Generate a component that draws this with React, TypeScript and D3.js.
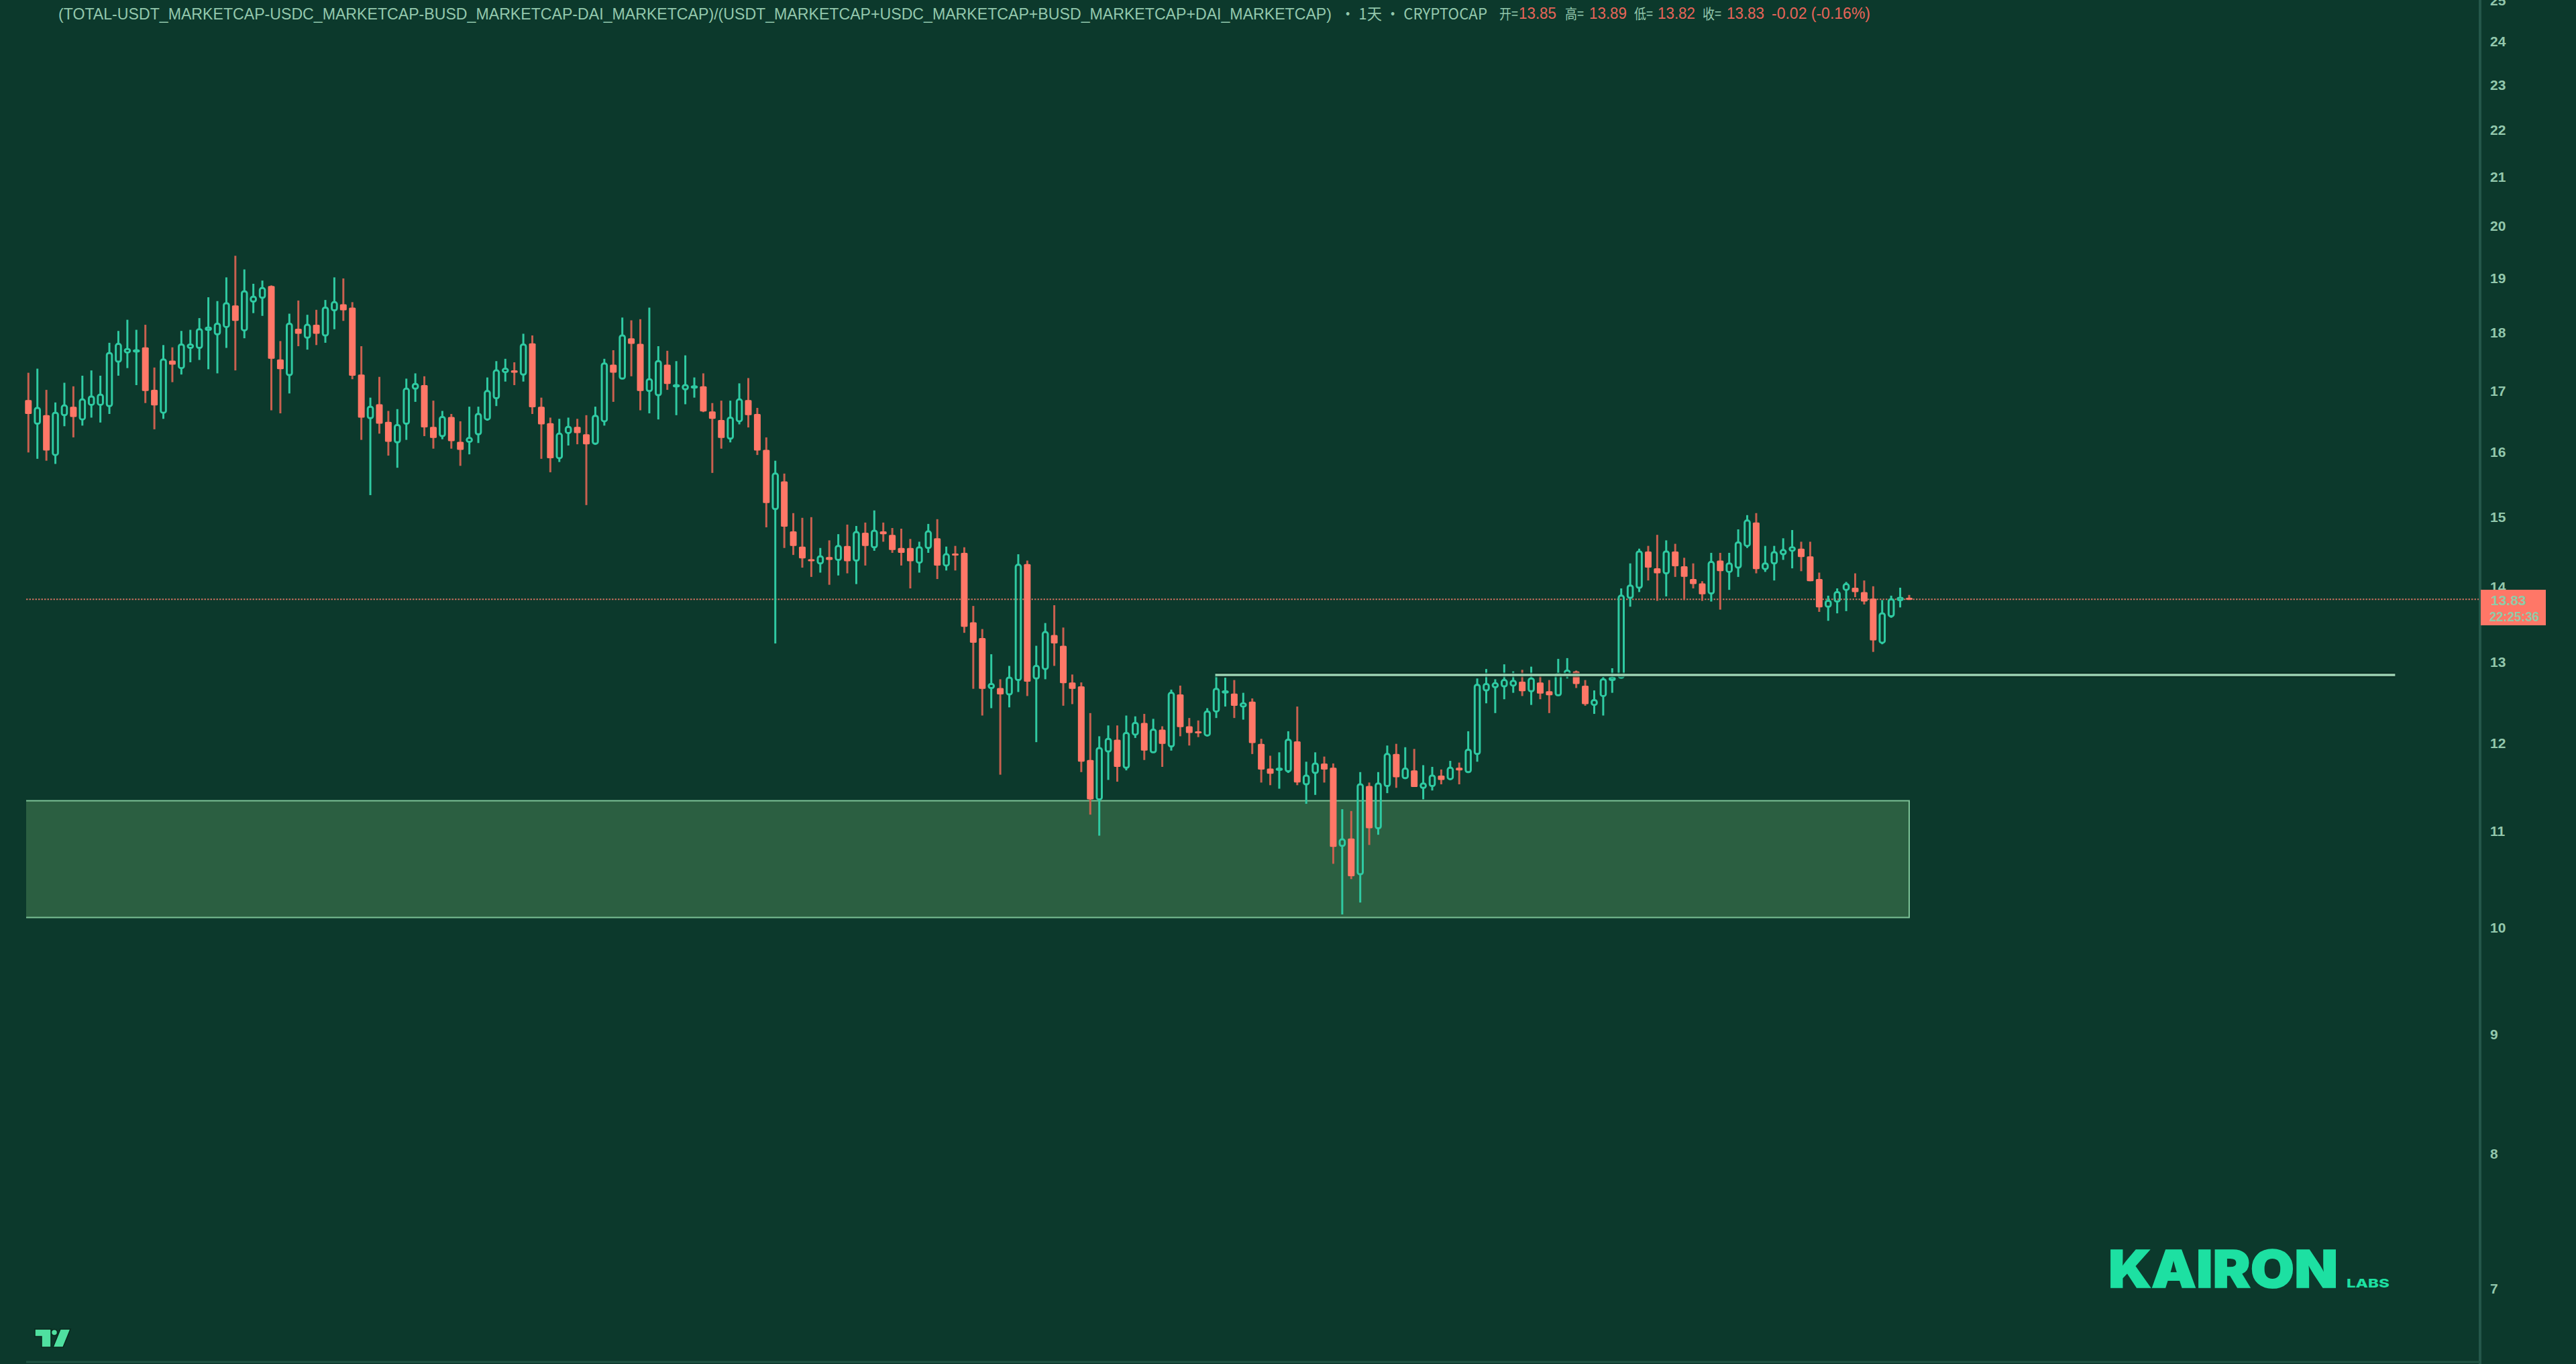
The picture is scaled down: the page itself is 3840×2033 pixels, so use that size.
import * as d3 from "d3";

const opens = [
  16.84, 16.45, 16.59, 15.95, 16.59, 16.73, 16.52, 16.76, 16.76, 16.74,
  17.49, 17.65, 17.67, 17.74, 17.01, 16.63, 17.51, 17.38, 17.73, 17.73,
  18.05, 17.97, 18.1, 18.49, 18.04, 18.56, 18.63, 18.85, 17.53, 17.26,
  18.07, 17.91, 18.14, 17.95, 18.4, 18.51, 18.45, 17.27, 16.54, 16.77,
  16.48, 16.15, 16.45, 17.03, 17.09, 16.4, 16.25, 16.56, 16.16, 16.16,
  16.28, 16.52, 16.87, 17.31, 17.34, 17.27, 17.81, 16.73, 16.46, 15.9,
  16.3, 16.4, 16.28, 16.13, 16.49, 17.44, 17.2, 17.9, 17.8, 16.99,
  16.92, 17.44, 17.07, 17.02, 17.06, 17.07, 16.65, 16.51, 16.21, 16.49,
  16.84, 16.61, 16.03, 15.12, 15.54, 14.79, 14.57, 14.39, 14.33, 14.42,
  14.38, 14.58, 14.37, 14.77, 14.56, 14.79, 14.74, 14.55, 14.55, 14.34,
  14.55, 14.69, 14.3, 14.47, 14.48, 13.52, 13.31, 12.67, 12.67, 12.59,
  12.77, 14.32, 12.79, 12.91, 13.35, 13.21, 12.74, 12.69, 11.8, 11.35,
  11.9, 12.04, 11.71, 12.1, 12.24, 11.89, 12.16, 11.96, 12.59, 12.2,
  12.14, 12.09, 12.38, 12.62, 12.6, 12.44, 12.5, 11.99, 11.7, 11.69,
  11.67, 12.02, 11.52, 11.65, 11.76, 11.71, 10.84, 10.92, 10.54, 11.5,
  11.03, 11.5, 11.87, 11.59, 11.68, 11.48, 11.5, 11.62, 11.58, 11.71,
  11.66, 11.87, 12.64, 12.68, 12.69, 12.7, 12.75, 12.63, 12.74, 12.63,
  12.58, 12.84, 12.88, 12.7, 12.46, 12.57, 12.77, 12.8, 13.85, 13.99,
  14.5, 14.26, 14.19, 14.5, 14.29, 14.11, 14.05, 13.91, 14.37, 14.21,
  14.27, 14.58, 14.92, 14.25, 14.33, 14.46, 14.51, 14.54, 14.43, 14.11,
  13.73, 13.8, 13.96, 13.99, 13.93, 13.84, 13.25, 13.6, 13.82, 13.85,
];

const highs = [
  17.3, 17.37, 17.01, 16.8, 17.13, 17.07, 17.25, 17.34, 17.25, 17.82,
  18.03, 18.23, 18.05, 18.14, 17.39, 17.78, 17.74, 18.03, 18.05, 18.26,
  18.64, 18.57, 19.01, 19.42, 19.16, 18.89, 18.95, 18.86, 17.85, 18.34,
  18.58, 18.32, 18.41, 18.59, 19.01, 18.99, 18.55, 17.76, 16.88, 17.23,
  16.66, 16.69, 17.2, 17.29, 17.24, 16.83, 16.66, 16.61, 16.49, 16.73,
  16.73, 17.22, 17.5, 17.54, 17.48, 17.98, 17.95, 16.88, 16.55, 16.53,
  16.55, 16.53, 16.59, 16.73, 17.54, 17.69, 18.27, 18.22, 18.24, 18.45,
  17.76, 17.68, 17.5, 17.6, 17.22, 17.29, 16.79, 16.83, 16.83, 17.12,
  17.21, 16.71, 16.23, 15.86, 15.66, 15.06, 14.99, 15.0, 14.55, 14.66,
  14.75, 14.89, 14.87, 14.92, 15.1, 14.92, 14.84, 14.83, 14.68, 14.64,
  14.9, 14.97, 14.57, 14.58, 14.56, 13.74, 13.43, 13.1, 12.78, 12.95,
  14.46, 14.37, 13.21, 13.51, 13.75, 13.45, 12.84, 12.74, 12.36, 12.08,
  12.21, 12.21, 12.33, 12.32, 12.35, 12.29, 12.2, 12.65, 12.7, 12.3,
  12.27, 12.42, 12.85, 12.8, 12.77, 12.61, 12.54, 12.05, 11.85, 11.89,
  12.14, 12.44, 11.78, 11.89, 11.84, 11.76, 11.24, 11.22, 11.66, 11.54,
  11.66, 11.97, 11.99, 11.95, 11.93, 11.74, 11.72, 11.69, 11.79, 11.77,
  12.14, 12.79, 12.91, 12.78, 12.97, 12.88, 12.9, 12.94, 12.83, 12.77,
  13.04, 13.05, 12.89, 12.77, 12.64, 12.81, 12.92, 13.98, 14.33, 14.54,
  14.58, 14.74, 14.66, 14.61, 14.41, 14.33, 14.08, 14.48, 14.48, 14.48,
  14.82, 15.03, 15.06, 14.58, 14.58, 14.69, 14.81, 14.64, 14.64, 14.2,
  13.88, 13.98, 14.07, 14.19, 14.09, 14.01, 13.82, 13.88, 13.99, 13.89,
];

const lows = [
  15.99, 15.89, 15.86, 15.81, 16.41, 16.23, 16.42, 16.55, 16.47, 16.61,
  17.25, 17.38, 17.09, 16.79, 16.36, 16.53, 17.14, 17.27, 17.48, 17.52,
  17.36, 17.29, 17.73, 17.34, 17.9, 18.35, 18.3, 16.67, 16.62, 16.95,
  17.76, 17.7, 17.78, 17.82, 18.06, 18.21, 17.19, 16.19, 15.33, 16.29,
  15.94, 15.75, 16.19, 16.81, 16.25, 16.05, 16.2, 16.05, 15.78, 15.96,
  16.14, 16.5, 16.74, 17.15, 17.09, 17.15, 16.61, 15.89, 15.68, 15.84,
  16.1, 16.12, 15.18, 16.11, 16.42, 16.81, 17.19, 17.24, 16.67, 16.62,
  16.52, 17.01, 16.59, 16.77, 16.88, 16.64, 15.67, 16.05, 16.15, 16.44,
  16.39, 15.95, 14.85, 13.24, 14.55, 14.45, 14.27, 14.14, 14.2, 14.03,
  14.16, 14.19, 14.04, 14.3, 14.51, 14.64, 14.48, 14.3, 13.98, 14.2,
  14.48, 14.11, 14.23, 14.23, 13.38, 12.66, 12.33, 12.42, 11.63, 12.43,
  12.62, 12.57, 12.01, 12.78, 12.95, 12.45, 12.47, 11.66, 11.18, 10.95,
  11.57, 11.55, 11.68, 12.06, 11.8, 11.89, 11.72, 11.91, 12.08, 11.97,
  12.07, 12.08, 12.3, 12.44, 12.3, 12.28, 11.87, 11.54, 11.51, 11.47,
  11.65, 11.51, 11.3, 11.4, 11.54, 10.65, 10.13, 10.49, 10.25, 10.85,
  10.96, 11.42, 11.48, 11.58, 11.49, 11.35, 11.45, 11.52, 11.57, 11.52,
  11.65, 11.78, 12.48, 12.36, 12.53, 12.61, 12.57, 12.46, 12.53, 12.36,
  12.58, 12.79, 12.67, 12.45, 12.35, 12.33, 12.61, 12.79, 13.73, 13.93,
  14.09, 13.81, 13.87, 14.14, 13.82, 13.98, 13.81, 13.8, 13.69, 13.96,
  14.14, 14.55, 14.19, 14.21, 14.09, 14.38, 14.26, 14.22, 14.08, 13.66,
  13.54, 13.64, 13.67, 13.86, 13.76, 13.13, 13.23, 13.58, 13.72, 13.82,
];

const closes = [
  16.61, 16.71, 16.02, 16.63, 16.75, 16.56, 16.85, 16.9, 16.93, 17.64,
  17.8, 17.71, 17.69, 16.99, 16.75, 17.53, 17.44, 17.79, 17.79, 18.06,
  18.09, 18.16, 18.53, 18.21, 18.75, 18.65, 18.81, 17.54, 17.36, 18.16,
  17.98, 18.14, 17.98, 18.45, 18.55, 18.4, 17.25, 16.55, 16.73, 16.45,
  16.16, 16.43, 17.03, 17.11, 16.39, 16.22, 16.56, 16.17, 16.03, 16.22,
  16.61, 16.99, 17.34, 17.37, 17.3, 17.79, 16.72, 16.44, 15.9, 16.29,
  16.4, 16.3, 16.12, 16.58, 17.46, 17.3, 17.95, 17.8, 16.99, 17.19,
  17.5, 17.11, 17.09, 17.09, 17.07, 16.65, 16.53, 16.22, 16.55, 16.85,
  16.59, 16.02, 15.21, 15.66, 14.86, 14.58, 14.4, 14.36, 14.43, 14.38,
  14.58, 14.36, 14.78, 14.58, 14.8, 14.75, 14.52, 14.48, 14.36, 14.56,
  14.79, 14.3, 14.46, 14.45, 13.46, 13.25, 12.66, 12.72, 12.59, 12.8,
  14.31, 12.75, 12.95, 13.39, 13.24, 12.73, 12.66, 11.78, 11.35, 11.94,
  12.05, 11.72, 12.12, 12.24, 11.91, 12.16, 11.99, 12.61, 12.19, 12.12,
  12.12, 12.38, 12.66, 12.63, 12.45, 12.48, 12.0, 11.69, 11.64, 11.7,
  12.04, 11.54, 11.62, 11.76, 11.69, 10.83, 10.91, 10.52, 11.52, 11.03,
  11.53, 11.87, 11.6, 11.7, 11.49, 11.53, 11.62, 11.57, 11.71, 11.68,
  11.92, 12.71, 12.72, 12.73, 12.77, 12.76, 12.63, 12.79, 12.6, 12.58,
  12.85, 12.89, 12.72, 12.47, 12.52, 12.78, 12.8, 13.88, 14.02, 14.5,
  14.27, 14.19, 14.5, 14.29, 14.14, 14.04, 13.9, 14.35, 14.22, 14.33,
  14.63, 14.95, 14.25, 14.33, 14.49, 14.52, 14.56, 14.42, 14.08, 13.72,
  13.81, 13.93, 14.04, 13.93, 13.8, 13.28, 13.64, 13.83, 13.85, 13.83,
];

const priceTicks = [25, 24, 23, 22, 21, 20, 19, 18, 17, 16, 15, 14, 13, 12, 11, 10, 9, 8, 7];
const lastPrice = 13.83;
const countdown = "22:25:36";
const zoneTop = 11.335;
const zoneBottom = 10.1;
const levelPrice = 12.835;
const levelFromIndex = 131.9;
const levelToIndex = 263;

const titleText =
  "(TOTAL-USDT_MARKETCAP-USDC_MARKETCAP-BUSD_MARKETCAP-DAI_MARKETCAP)/(USDT_MARKETCAP+USDC_MARKETCAP+BUSD_MARKETCAP+DAI_MARKETCAP)";
const intervalText = "· 1天 · CRYPTOCAP";
const ohlcLabels = ["开=", "高=", "低=", "收="];
const ohlcValues = ["13.85", "13.89", "13.82", "13.83"];
const changeText = "-0.02 (-0.16%)";

const width = 3840;
const height = 2033;
const plotLeft = 39;
const axisX = 3697;
const bg = "#0c392c";
const upColor = "#2fcaa2";
const downBody = "#ff7767";
const downWick = "#c9604f";
const axisText = "#93c8ad";
const latin = "'Liberation Sans', Arial, sans-serif";
const cjk = "'Noto Sans CJK SC', 'Liberation Sans', sans-serif";

const x = d3.scaleLinear().domain([0, opens.length - 1]).range([42.3, 2846]);
const y = d3.scaleLog().domain([7, 25]).range([1920.5, 0.2]);

const bodyW = 10;

function Candle({ i }: { i: number }) {
  const cx = x(i);
  const top = y(Math.max(opens[i], closes[i]));
  const bottom = y(Math.min(opens[i], closes[i]));
  const yHigh = y(highs[i]);
  const yLow = y(lows[i]);
  if (closes[i] < opens[i]) {
    return (
      <g>
        <line x1={cx} x2={cx} y1={yHigh} y2={yLow} stroke={downWick} strokeWidth={3} />
        <rect
          x={cx - bodyW / 2}
          y={top}
          width={bodyW}
          height={Math.max(bottom - top, 3)}
          rx={1.5}
          fill={downBody}
        />
      </g>
    );
  }
  // hollow up candle, the wick stops at the body so the zone shows through
  return (
    <g stroke={upColor} fill="none">
      <line x1={cx} x2={cx} y1={yHigh} y2={top} strokeWidth={3} />
      <line x1={cx} x2={cx} y1={bottom} y2={yLow} strokeWidth={3} />
      <rect
        x={cx - bodyW / 2 + 1.2}
        y={top}
        width={bodyW - 2.4}
        height={Math.max(bottom - top, 2)}
        rx={3}
        strokeWidth={3}
      />
    </g>
  );
}

export default function App() {
  const lastY = y(lastPrice);
  const levelY = y(levelPrice);
  const zoneRight = x(opens.length - 1);
  const ohlcX = [2235, 2333, 2436, 2538];
  const valueX = [2264, 2369, 2471, 2574];

  return (
    <svg
      width={width}
      height={height}
      viewBox={`0 0 ${width} ${height}`}
      style={{ position: "absolute", left: 0, top: 0, display: "block" }}
    >
      <rect width={width} height={height} fill={bg} />

      {/* support zone, open on the left where the plot starts */}
      <rect
        x={plotLeft}
        y={y(zoneTop)}
        width={zoneRight - plotLeft}
        height={y(zoneBottom) - y(zoneTop)}
        fill="#2b5f41"
      />
      <path
        d={`M${plotLeft} ${y(zoneTop)}H${zoneRight}V${y(zoneBottom)}H${plotLeft}`}
        fill="none"
        stroke="#7cc196"
        strokeWidth={2}
      />

      {/* last price line */}
      <line
        x1={plotLeft}
        x2={axisX}
        y1={lastY}
        y2={lastY}
        stroke="#c9705f"
        strokeWidth={2}
        strokeDasharray="2.5 2"
      />

      {opens.map((_, i) => (
        <Candle key={i} i={i} />
      ))}

      {/* resistance level */}
      <line x1={x(levelFromIndex)} x2={x(levelToIndex)} y1={levelY} y2={levelY} stroke="#08261c" strokeWidth={7} opacity={0.7} />
      <line x1={x(levelFromIndex)} x2={x(levelToIndex)} y1={levelY} y2={levelY} stroke="#9ed4b4" strokeWidth={3.5} />

      {/* frame */}
      <line x1={axisX} x2={axisX} y1={0} y2={height} stroke="#24574a" strokeWidth={4} />
      <line x1={plotLeft} x2={axisX} y1={2030} y2={2030} stroke="#1f5242" strokeWidth={3} />

      {/* price axis */}
      {priceTicks.map((t) => (
        <text
          key={t}
          x={3712}
          y={y(t)}
          dy="0.36em"
          fontFamily={latin}
          fontSize={21}
          fontWeight={700}
          fill={axisText}
        >
          {t}
        </text>
      ))}

      {/* last price tag */}
      <rect x={axisX + 1} y={879} width={97} height={53} fill={downBody} />
      <text x={3713} y={894} dy="0.36em" fontFamily={latin} fontSize={21} fontWeight={700} fill="#8fcba8">
        {lastPrice.toFixed(2)}
      </text>
      <text x={3711} y={918} dy="0.36em" textLength={74} lengthAdjust="spacingAndGlyphs" fontFamily={latin} fontSize={21} fontWeight={700} fill="#8fcba8">
        {countdown}
      </text>

      {/* header */}
      <text x={87} y={29} fontFamily={latin} fontSize={24} fill={axisText} textLength={1898} lengthAdjust="spacingAndGlyphs">
        {titleText}
      </text>
      <text x={1998} y={29} fontFamily={cjk} fontSize={23} fill={axisText} textLength={219} lengthAdjust="spacingAndGlyphs">
        {intervalText}
      </text>
      {ohlcLabels.map((l, i) => (
        <text key={l} x={ohlcX[i]} y={28} fontFamily={cjk} fontSize={21} fill={axisText} textLength={28} lengthAdjust="spacingAndGlyphs">
          {l}
        </text>
      ))}
      {ohlcValues.map((v, i) => (
        <text key={i} x={valueX[i]} y={28} fontFamily={latin} fontSize={23} fill="#e8655a" textLength={56} lengthAdjust="spacingAndGlyphs">
          {v}
        </text>
      ))}
      <text x={2641} y={28} fontFamily={latin} fontSize={23} fill="#e8655a" textLength={147} lengthAdjust="spacingAndGlyphs">
        {changeText}
      </text>

      {/* TradingView mark */}
      <g fill="#4fe0a0" stroke="#08261c" strokeWidth={1.5}>
        <path d="M52 1981H76V2008H62V1992H52Z" />
        <circle cx={81} cy={1986} r={4.5} />
        <path d="M90 1981H105L94 2008H79Z" />
      </g>

      {/* logo */}
      <text
        x={3143}
        y={1919}
        fontFamily="Inter, 'Liberation Sans', sans-serif"
        fontSize={77}
        fontWeight={900}
        fill="#1de0a2"
        stroke="#1de0a2"
        strokeWidth={1.5}
        textLength={342}
        lengthAdjust="spacingAndGlyphs"
      >
        KAIRON
      </text>
      <text
        x={3498}
        y={1919}
        fontFamily="Inter, 'Liberation Sans', sans-serif"
        fontSize={18}
        fontWeight={800}
        fill="#1de0a2"
        textLength={64}
        lengthAdjust="spacingAndGlyphs"
      >
        LABS
      </text>
    </svg>
  );
}
